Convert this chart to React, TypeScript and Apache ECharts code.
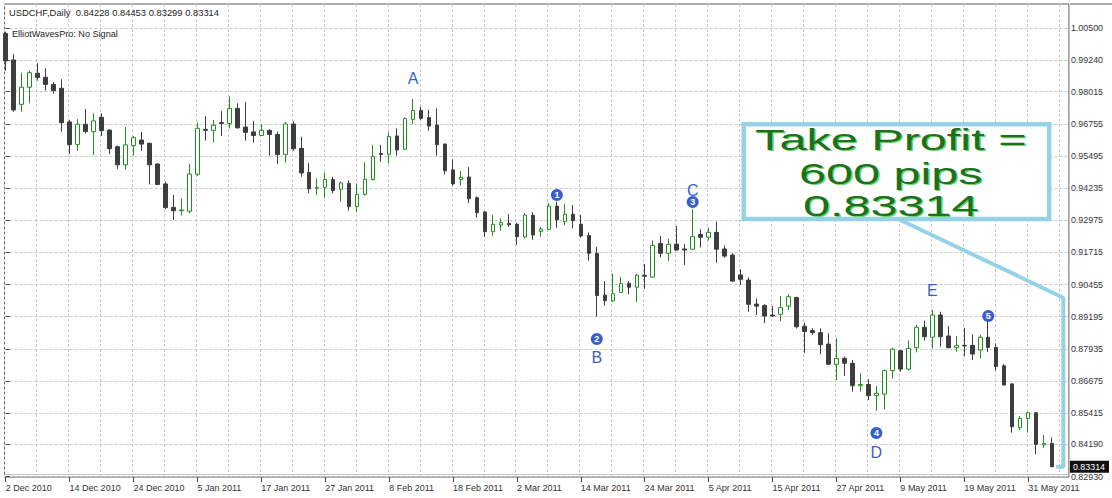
import React, { useEffect, useRef } from "react";
import * as echarts from "echarts";

const opens = [1.0030,0.9926,0.9752,0.9819,0.9874,0.9858,0.9830,0.9815,0.9683,0.9595,0.9674,0.9645,0.9701,0.9651,0.9586,0.9515,0.9590,0.9612,0.9599,0.9518,0.9440,0.9348,0.9335,0.9333,0.9478,0.9654,0.9650,0.9681,0.9677,0.9736,0.9663,0.9644,0.9630,0.9650,0.9634,0.9556,0.9675,0.9579,0.9485,0.9423,0.9427,0.9457,0.9419,0.9442,0.9351,0.9399,0.9457,0.9559,0.9556,0.9628,0.9576,0.9693,0.9728,0.9700,0.9671,0.9596,0.9495,0.9458,0.9467,0.9386,0.9330,0.9253,0.9279,0.9285,0.9282,0.9232,0.9317,0.9254,0.9262,0.9353,0.9292,0.9321,0.9282,0.9238,0.9168,0.9004,0.8982,0.9015,0.9050,0.9035,0.9082,0.9075,0.9207,0.9168,0.9204,0.9185,0.9184,0.9242,0.9231,0.9250,0.9185,0.9161,0.9083,0.9063,0.8969,0.8963,0.8926,0.8929,0.8961,0.8995,0.8882,0.8865,0.8857,0.8812,0.8733,0.8756,0.8737,0.8649,0.8654,0.8610,0.8616,0.8708,0.8786,0.8714,0.8798,0.8878,0.8839,0.8926,0.8844,0.8798,0.8807,0.8807,0.8789,0.8839,0.8799,0.8727,0.8656,0.8484,0.8521,0.8543,0.8417,0.84228];
const closes = [0.9922,0.9730,0.9819,0.9876,0.9857,0.9830,0.9806,0.9680,0.9594,0.9674,0.9645,0.9687,0.9649,0.9578,0.9515,0.9593,0.9621,0.9596,0.9515,0.9438,0.9347,0.9335,0.9338,0.9479,0.9658,0.9650,0.9670,0.9677,0.9736,0.9660,0.9642,0.9630,0.9650,0.9634,0.9555,0.9675,0.9578,0.9483,0.9421,0.9427,0.9457,0.9414,0.9444,0.9351,0.9399,0.9458,0.9548,0.9555,0.9626,0.9573,0.9696,0.9728,0.9697,0.9667,0.9594,0.9492,0.9440,0.9466,0.9382,0.9327,0.9253,0.9282,0.9288,0.9280,0.9233,0.9318,0.9240,0.9263,0.9353,0.9299,0.9321,0.9296,0.9236,0.9168,0.9003,0.8982,0.9010,0.9049,0.9035,0.9082,0.9078,0.9199,0.9168,0.9203,0.9181,0.9181,0.9233,0.9231,0.9250,0.9184,0.9157,0.9059,0.9066,0.8968,0.8961,0.8922,0.8922,0.8955,0.8998,0.8880,0.8861,0.8857,0.8810,0.8733,0.8756,0.8737,0.8649,0.8654,0.8610,0.8619,0.8708,0.8792,0.8714,0.8795,0.8878,0.8841,0.8926,0.8841,0.8798,0.8806,0.8805,0.8773,0.8839,0.8799,0.8724,0.8652,0.8488,0.8521,0.8543,0.8419,0.8423,0.83314];
const lows = [0.9884,0.9723,0.9723,0.9756,0.9845,0.9806,0.9794,0.9645,0.9557,0.9570,0.9638,0.9553,0.9628,0.9557,0.9499,0.9496,0.9551,0.9570,0.9438,0.9436,0.9342,0.9299,0.9316,0.9325,0.9471,0.9610,0.9602,0.9628,0.9658,0.9657,0.9610,0.9602,0.9628,0.9551,0.9519,0.9523,0.9570,0.9468,0.9403,0.9397,0.9386,0.9403,0.9370,0.9335,0.9329,0.9394,0.9453,0.9526,0.9521,0.9551,0.9573,0.9675,0.9691,0.9649,0.9551,0.9478,0.9433,0.9433,0.9364,0.9308,0.9233,0.9237,0.9257,0.9272,0.9201,0.9227,0.9221,0.9233,0.9259,0.9268,0.9279,0.9265,0.9229,0.9139,0.8920,0.8963,0.8978,0.9014,0.9008,0.8977,0.9029,0.9072,0.9152,0.9138,0.9178,0.9122,0.9181,0.9191,0.9218,0.9131,0.9151,0.9057,0.9044,0.8939,0.8926,0.8894,0.8920,0.8901,0.8946,0.8873,0.8778,0.8848,0.8773,0.8730,0.8671,0.8688,0.8626,0.8626,0.8593,0.8551,0.8556,0.8678,0.8704,0.8708,0.8780,0.8826,0.8795,0.8802,0.8795,0.8782,0.8765,0.8750,0.8756,0.8782,0.8708,0.8649,0.8465,0.8475,0.8465,0.8381,0.8406,0.83299];
const highs = [1.0037,0.9949,0.9876,0.9884,0.9913,0.9893,0.9840,0.9850,0.9691,0.9694,0.9734,0.9717,0.9717,0.9654,0.9590,0.9663,0.9628,0.9644,0.9602,0.9521,0.9449,0.9397,0.9383,0.9518,0.9681,0.9705,0.9691,0.9725,0.9783,0.9756,0.9761,0.9687,0.9674,0.9654,0.9645,0.9683,0.9685,0.9625,0.9521,0.9462,0.9484,0.9468,0.9449,0.9454,0.9442,0.9525,0.9593,0.9593,0.9642,0.9658,0.9701,0.9773,0.9743,0.9730,0.9736,0.9599,0.9536,0.9491,0.9506,0.9391,0.9333,0.9318,0.9305,0.9322,0.9288,0.9325,0.9329,0.9272,0.9366,0.9370,0.9361,0.9357,0.9318,0.9250,0.9194,0.9059,0.9089,0.9076,0.9059,0.9087,0.9126,0.9218,0.9236,0.9224,0.9275,0.9204,0.9342,0.9262,0.9268,0.9292,0.9198,0.9168,0.9105,0.9074,0.8991,0.8969,0.8961,0.9001,0.9008,0.8998,0.8896,0.8874,0.8874,0.8854,0.8835,0.8763,0.8750,0.8697,0.8674,0.8648,0.8713,0.8798,0.8789,0.8826,0.8887,0.8904,0.8946,0.8939,0.8883,0.8844,0.8876,0.8850,0.8848,0.8933,0.8815,0.8733,0.8658,0.8530,0.8547,0.8546,0.8456,0.84453];

const xTickBars = [0, 8, 16, 24, 32, 40, 48, 56, 64, 72, 80, 88, 96, 104, 112, 120, 128];
const xTickLabels = ["2 Dec 2010", "14 Dec 2010", "24 Dec 2010", "5 Jan 2011", "17 Jan 2011", "27 Jan 2011", "8 Feb 2011", "18 Feb 2011", "2 Mar 2011", "14 Mar 2011", "24 Mar 2011", "5 Apr 2011", "15 Apr 2011", "27 Apr 2011", "9 May 2011", "19 May 2011", "31 May 2011"];
const yTicks = [0.8293, 0.8419, 0.85415, 0.86675, 0.87935, 0.89195, 0.90455, 0.91715, 0.92975, 0.94235, 0.95495, 0.96755, 0.98015, 0.9924, 1.005];

const waveNumBars = [69, 74, 86, 109, 123];
const waveNumPrices = [0.93965, 0.88321, 0.93691, 0.84636, 0.89222];
const waveNumLabels = ["1", "2", "3", "4", "5"];
const waveLetterBars = [51, 74, 86, 109, 116];
const waveLetterPrices = [0.98513, 0.87615, 0.94161, 0.83891, 0.90241];
const waveLetters = ["A", "B", "C", "D", "E"];

const tpLineBars = [112.0, 132.4, 132.4, 131.5];
const tpLinePrices = [0.92985, 0.8994, 0.83314, 0.83314];
const tpText = ["Take Profit =", "600 pips", "0.83314"];

const symbolName = "USDCHF,Daily";
const indicatorText = "ElliotWavesPro: No Signal";

const X_MIN = -0.15;
const X_MAX = 133.1;
const Y_MIN = 0.82911;
const Y_MAX = 1.01453;

const FONT = "Liberation Sans";
const BULL = "#1f8f1f";
const BEAR = "#3d3d3d";
const TP_BLUE = "#96d2e6";
const WAVE_BLUE = "#3a5fcc";

export default function App() {
  const ref = useRef<HTMLDivElement>(null);

  useEffect(() => {
    if (!ref.current) return;
    const chart = echarts.init(ref.current, undefined, { renderer: "svg" });
    const last = opens.length - 1;
    const f5 = (v: number) => v.toFixed(5);
    const header = `${symbolName}  ${f5(opens[last])} ${f5(highs[last])} ${f5(lows[last])} ${f5(closes[last])}`;

    const labelFor = (v: number) => {
      for (let i = 0; i < xTickBars.length; i++) {
        if (Math.abs(xTickBars[i] - v) < 1e-6) return xTickLabels[i];
      }
      return "";
    };

    const tpYs = [140, 174, 206];
    const tpLayers = [
      { dx: 1.3, dy: 0.6, fill: "#62d862" },
      { dx: -0.2, dy: 0, fill: "#1e6f1e" },
    ];

    const baseX = {
      type: "value",
      gridIndex: 0,
      min: X_MIN,
      max: X_MAX,
      position: "bottom",
      axisLine: { show: false },
      splitLine: { show: false },
      axisTick: { show: false },
      axisLabel: { show: false },
    };

    const tpGraphics: any[] = [];
    tpLayers.forEach((layer, li) => {
      tpText.forEach((t, i) => {
        tpGraphics.push({
          type: "text",
          z: 101 + li,
          x: 891 + layer.dx,
          y: tpYs[i] + layer.dy,
          scaleX: 1.62,
          style: {
            text: t,
            fontSize: 30,
            fontFamily: FONT,
            fill: layer.fill,
            textAlign: "center",
            textVerticalAlign: "middle",
            align: "center",
            verticalAlign: "middle",
          },
        });
      });
    });

    chart.setOption({
      animation: false,
      backgroundColor: "#ffffff",
      title: [
        {
          text: header,
          left: 9,
          top: 8,
          padding: 0,
          textStyle: { fontSize: 9.4, fontWeight: "normal", color: "#1e1e1e", fontFamily: FONT },
        },
        {
          text: indicatorText,
          left: 12,
          top: 29,
          padding: 0,
          textStyle: { fontSize: 9.1, fontWeight: "normal", color: "#1e1e1e", fontFamily: FONT },
        },
      ],
      grid: {
        left: 4.5,
        top: 4,
        width: 1066,
        height: 473,
        show: true,
        borderColor: "#5a5a5a",
        borderWidth: 1,
        backgroundColor: "#ffffff",
      },
      xAxis: [
        {
          ...baseX,
          interval: 4,
          splitLine: { show: true, lineStyle: { color: "#c9c9c9", type: [3, 2], width: 1 } },
        },
        {
          ...baseX,
          axisTick: {
            show: true,
            customValues: xTickBars,
            length: 5,
            lineStyle: { color: "#444" },
          },
          axisLabel: {
            show: true,
            customValues: xTickBars,
            formatter: labelFor,
            align: "left",
            margin: 6,
            padding: [0, 0, 0, 0],
            fontSize: 9,
            color: "#333",
            fontFamily: FONT,
          },
        },
      ],
      yAxis: [
        {
          type: "value",
          gridIndex: 0,
          position: "right",
          min: Y_MIN,
          max: Y_MAX,
          axisLine: { show: false },
          axisTick: { show: true, customValues: yTicks, length: 4, lineStyle: { color: "#444" } },
          axisLabel: {
            customValues: yTicks,
            formatter: (v: number) => v.toFixed(5),
            margin: 2,
            fontSize: 8.9,
            color: "#333",
            fontFamily: FONT,
          },
          splitLine: { show: true, lineStyle: { color: "#c9c9c9", type: [3, 2], width: 1 } },
        },
        {
          type: "value",
          gridIndex: 0,
          position: "right",
          min: Y_MIN,
          max: Y_MAX,
          axisLine: { show: false },
          axisTick: { show: false },
          splitLine: { show: false },
          axisLabel: {
            customValues: [closes[last]],
            formatter: (v: number) => v.toFixed(5),
            margin: 1,
            fontSize: 8.9,
            color: "#ffffff",
            backgroundColor: "#111111",
            padding: [2, 4, 1, 3],
            fontFamily: FONT,
          },
        },
      ],
      graphic: [
        {
          type: "line",
          z: 100,
          shape: { x1: 1070, y1: 4, x2: 1112, y2: 4 },
          style: { stroke: "#5a5a5a", lineWidth: 1 },
        },
        {
          type: "rect",
          z: 100,
          shape: { x: 743.7, y: 124.3, width: 305.5, height: 94.7 },
          style: { fill: "#ffffff", stroke: TP_BLUE, lineWidth: 4.5 },
        },
        ...tpGraphics,
      ],
      series: [
        {
          type: "line",
          xAxisIndex: 0,
          yAxisIndex: 0,
          data: tpLineBars.map((b, i) => [b, tpLinePrices[i]]),
          symbol: "none",
          lineStyle: { color: TP_BLUE, width: 4 },
          z: 2,
          silent: true,
        },
        {
          type: "candlestick",
          xAxisIndex: 0,
          yAxisIndex: 0,
          data: opens.map((o, i) => [i, o, closes[i], lows[i], highs[i]]),
          barWidth: 4,
          itemStyle: {
            color: "#ffffff",
            color0: BEAR,
            borderColor: BULL,
            borderColor0: BEAR,
            borderWidth: 1,
          },
          markLine: {
            silent: true,
            symbol: "none",
            label: { show: false },
            lineStyle: { color: "#c2c2c2", type: "solid", width: 1 },
            data: [{ yAxis: closes[last] }],
          },
          z: 3,
        },
        {
          type: "scatter",
          xAxisIndex: 0,
          yAxisIndex: 0,
          data: waveNumBars.map((b, i) => [b, waveNumPrices[i]]),
          symbol: "circle",
          symbolSize: 12,
          itemStyle: { color: WAVE_BLUE, opacity: 1 },
          label: {
            show: true,
            position: "inside",
            formatter: (p: any) => waveNumLabels[p.dataIndex],
            color: "#ffffff",
            fontSize: 9,
            fontWeight: "bold",
            fontFamily: FONT,
          },
          z: 5,
        },
        {
          type: "scatter",
          xAxisIndex: 0,
          yAxisIndex: 0,
          data: waveLetterBars.map((b, i) => [b, waveLetterPrices[i]]),
          symbol: "circle",
          symbolSize: 1,
          itemStyle: { color: "rgba(0,0,0,0)", opacity: 1 },
          label: {
            show: true,
            position: "inside",
            formatter: (p: any) => waveLetters[p.dataIndex],
            color: WAVE_BLUE,
            fontSize: 16,
            fontFamily: FONT,
          },
          z: 5,
        },
      ],
    });

    return () => chart.dispose();
  }, []);

  return (
    <div
      ref={ref}
      style={{ position: "fixed", left: 0, top: 0, width: 1112, height: 498, background: "#fff" }}
    />
  );
}
